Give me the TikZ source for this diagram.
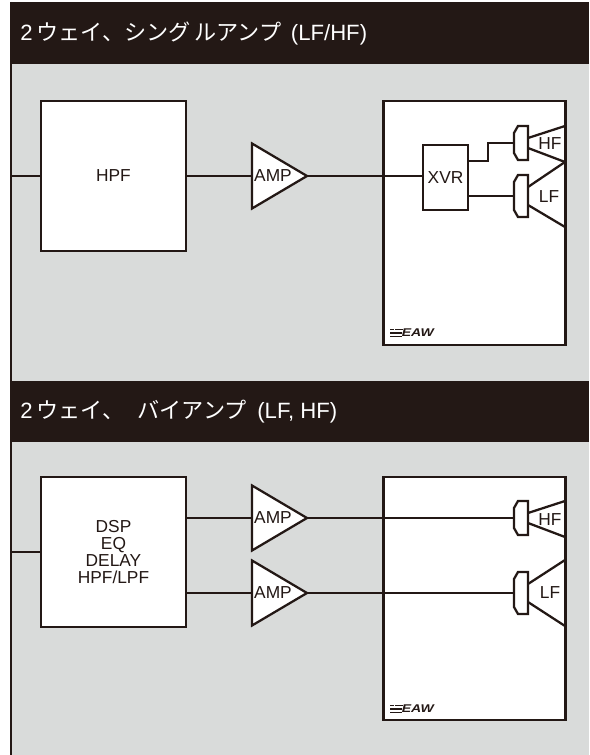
\documentclass[tikz,border=0pt]{standalone}
\usepackage{fontspec}
\setmainfont{Liberation Sans}
\newfontfamily\jpfont{Noto Sans CJK JP}
\definecolor{ink}{HTML}{231815}
\definecolor{panel}{HTML}{D9DBDA}
\tikzset{
  wire/.style={draw=ink,line width=1.7pt,line join=miter},
  blockbox/.style={draw=ink,fill=white,line width=1.7pt,inner sep=0pt,outer sep=0pt,align=center,font=\fontsize{13}{12.8}\selectfont,text=ink},
  tag/.style={inner sep=0pt,font=\fontsize{13}{12.8}\selectfont,text=ink,align=center},
  headbar/.style={fill=ink,draw=none},
  headtext/.style={anchor=west,inner sep=0pt,text=white,font=\fontsize{16.6}{16.6}\selectfont},
  logotext/.style={inner sep=0pt,anchor=west,text=ink,xscale=1.25,font=\fontsize{8.4}{8.4}\selectfont\bfseries\itshape}
}
\newcommand{\ampsym}[3]{% name, x, y of input mid
  \coordinate (#1in) at (#2,#3);
  \coordinate (#1out) at (#2+55,#3);
  \draw[wire,fill=white] (#2,#3-32.5) -- (#2+55,#3) -- (#2,#3+32.5) -- cycle;
  \node[tag] at (#2+21,#3) {AMP};
}
\newcommand{\drv}[5]{% name,y centre,half height,horn top,horn bottom
  \coordinate (#1in) at (514,#2);
  \draw[wire,fill=white] (514,#2-#3+7) -- (518,#2-#3) -- (528,#2-#3) -- (528,#2+#3) -- (518,#2+#3) -- (514,#2+#3-7) -- cycle;
  \draw[wire] (528,#2-#3+12) -- (565,#4);
  \draw[wire] (528,#2+#3-12) -- (565,#5);
}
\newcommand{\eawlogo}[2]{%
  \fill[ink] (#1,#2-4) -- (#1+4,#2-4) -- (#1+4,#2-2.8) -- (#1,#2-2.8) -- cycle;
  \fill[ink] (#1+5,#2-4) -- (#1+13,#2-4) -- (#1+13,#2-2.8) -- (#1+5,#2-2.8) -- cycle;
  \fill[ink] (#1,#2-0.6) rectangle (#1+12,#2+0.6);
  \fill[ink] (#1,#2+2.8) rectangle (#1+12,#2+4);
  \node[logotext] at (#1+11.5,#2) {EAW};
}
\begin{document}
\begin{tikzpicture}[x=0.75pt,y=-0.75pt]
\useasboundingbox (0,0) rectangle (589,755);
\fill[white] (0,0) rectangle (589,755);
% panels
\fill[panel] (11,64) rectangle (589,755);
\draw[draw=ink,line width=1.4pt] (11,2) -- (11,755);
\fill[headbar] (11,2) rectangle (589,64);
\fill[headbar] (11,381) rectangle (589,442);
\node[headtext] (h1) at (20,33) {2\,{\jpfont ウェイ、シング\,ルアンプ}\hspace{0.15em} (LF/HF)};
\node[headtext] (h2) at (20,412) {2\,{\jpfont ウェイ、\hspace{0.6em}バイアンプ}\hspace{0.2em} (LF, HF)};
% section 1
\coordinate (in1) at (11,176);
\node[blockbox,minimum width=109pt,minimum height=112pt] (hpf) at (113.5,176) {HPF};
\draw[wire] (in1) -- (hpf.west |- in1);
\node[blockbox,minimum width=136.5pt,minimum height=182.5pt] (spk1) at (474.5,223) {};
\ampsym{a1}{252}{176}
\draw[wire] (hpf.east |- a1in) -- (a1in);
\node[blockbox,minimum width=33.5pt,minimum height=48.5pt] (xvr) at (445.5,177.5) {XVR};
\draw[wire] (a1out) -- (xvr.west |- a1out);
\drv{d1}{143}{17}{126}{162}
\drv{d2}{196}{21}{162}{227}
\draw[wire] (xvr.east |- 0,161) -- (488,161) -- (488,143) -- (d1in);
\draw[wire] (xvr.east |- d2in) -- (d2in);
\node[tag] at (550,144) {HF};
\node[tag] at (549,197) {LF};
\eawlogo{390}{333}
% section 2
\coordinate (in2) at (11,552);
\node[blockbox,minimum width=109pt,minimum height=112pt] (dsp) at (113.5,552) {DSP\\EQ\\DELAY\\HPF/LPF};
\draw[wire] (in2) -- (dsp.west |- in2);
\node[blockbox,minimum width=136.5pt,minimum height=182pt] (spk2) at (474.5,598.5) {};
\ampsym{a2}{252}{518}
\ampsym{a3}{252}{593}
\draw[wire] (dsp.east |- a2in) -- (a2in);
\draw[wire] (dsp.east |- a3in) -- (a3in);
\drv{d3}{518}{17}{501}{537}
\drv{d4}{593}{21}{560}{626}
\draw[wire] (a2out) -- (d3in);
\draw[wire] (a3out) -- (d4in);
\node[tag] at (550,520) {HF};
\node[tag] at (550,593) {LF};
\eawlogo{390}{709}
\end{tikzpicture}
\end{document}
